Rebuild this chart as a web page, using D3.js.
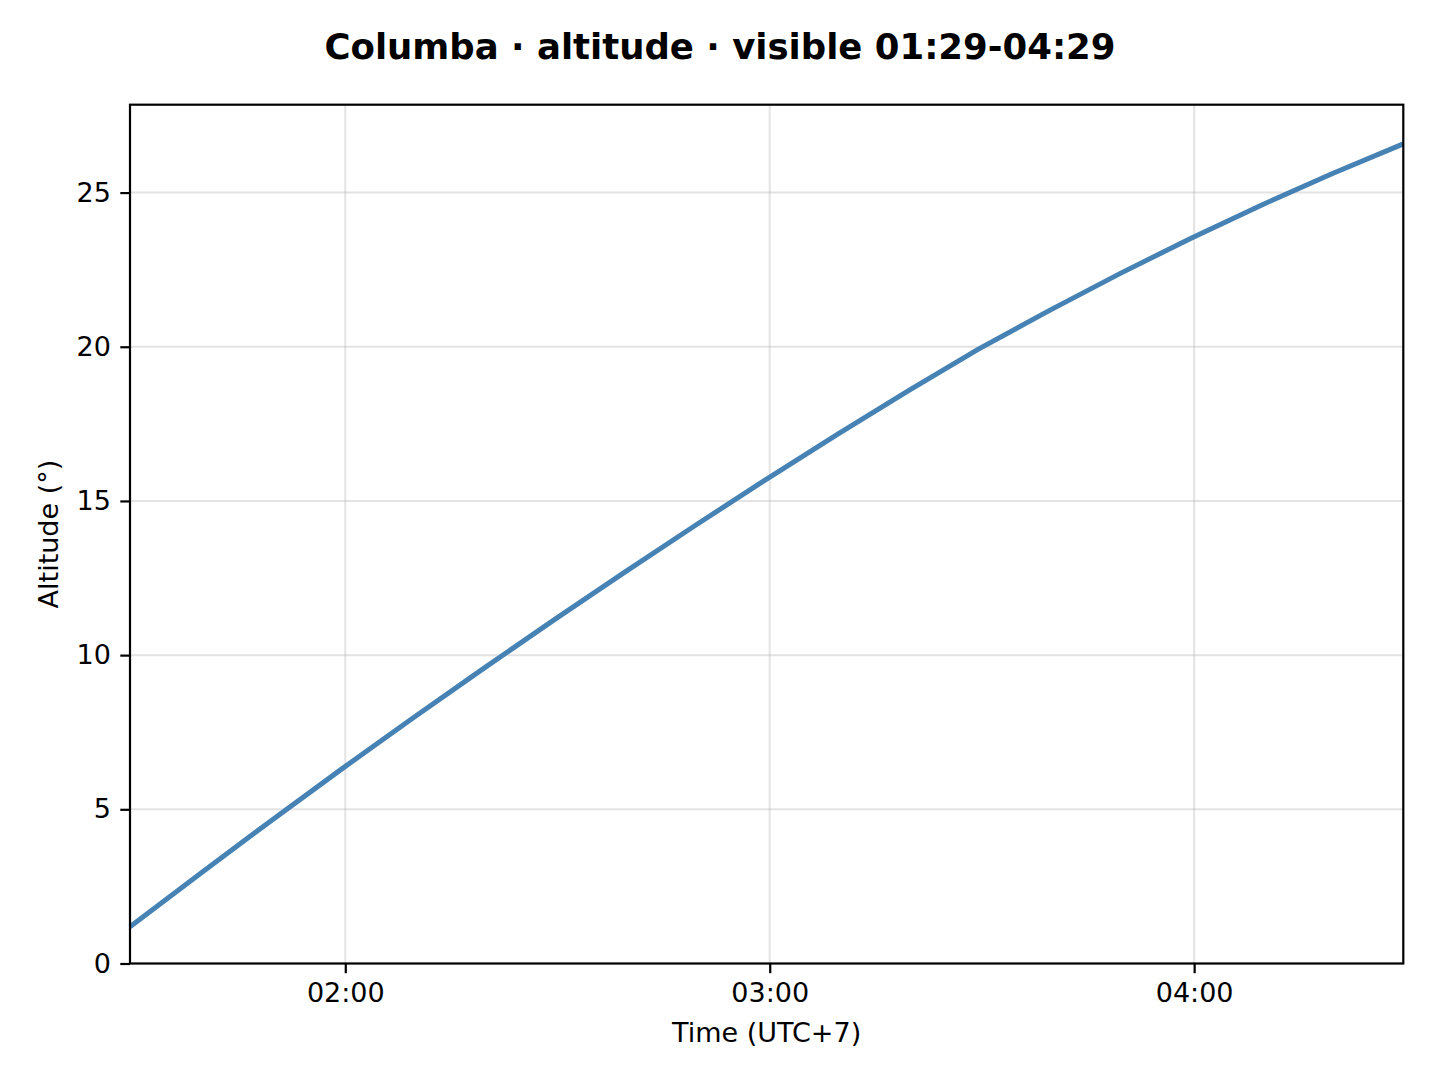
<!DOCTYPE html>
<html>
<head>
<meta charset="utf-8">
<script src="https://cdn.jsdelivr.net/npm/d3@7"></script>
<style>
  html, body { margin: 0; padding: 0; background: #fff; }
  svg { display: block; font-family: "DejaVu Sans", sans-serif; }
  .grid line { stroke: #b0b0b0; stroke-opacity: 0.35; stroke-width: 2; }
  .axis path, .axis line { stroke: #000; stroke-width: 2.2; }
  .axis text { fill: #000; font-size: 27px; font-family: "DejaVu Sans", sans-serif; }
</style>
</head>
<body>
<svg width="1440" height="1080"></svg>
<script>
const titleText = "Columba \u00b7 altitude \u00b7 visible 01:29-04:29";
const xLabel = "Time (UTC+7)";
const yLabel = "Altitude (\u00b0)";

// sampled every 10 minutes, local time
const times = ["01:29:34", "01:39:34", "01:49:34", "01:59:34", "02:09:34", "02:19:34",
  "02:29:34", "02:39:34", "02:49:34", "02:59:34", "03:09:34", "03:19:34", "03:29:34",
  "03:39:34", "03:49:34", "03:59:34", "04:09:34", "04:19:34", "04:29:34"];
const altitudes = [1.19, 2.93, 4.64, 6.32, 7.96, 9.57, 11.15, 12.70, 14.22, 15.71,
  17.16, 18.57, 19.93, 21.18, 22.38, 23.52, 24.60, 25.62, 26.58];
const yTicks = [0, 5, 10, 15, 20, 25];

const parseTime = d3.timeParse("%H:%M:%S");
const data = times.map(function(t, i) { return { t: parseTime(t), alt: altitudes[i] }; });

const margin = { top: 104.7, right: 36.7, bottom: 116.5, left: 130 };
const width = 1440, height = 1080;
const svg = d3.select("svg");

const x = d3.scaleTime()
  .domain(d3.extent(data, function(d) { return d.t; }))
  .range([margin.left, width - margin.right]);

// bottom pinned at 0, top gets matplotlib's 5% headroom
const yMin = d3.min(altitudes), yMax = d3.max(altitudes);
const y = d3.scaleLinear()
  .domain([0, yMax + 0.05 * (yMax - yMin)])
  .range([height - margin.bottom, margin.top]);

const xTicks = x.ticks(d3.timeHour.every(1));

// grid
const grid = svg.append("g").attr("class", "grid");
grid.selectAll(".gx")
  .data(xTicks)
  .enter().append("line")
    .attr("x1", function(d) { return x(d); })
    .attr("x2", function(d) { return x(d); })
    .attr("y1", y.range()[0])
    .attr("y2", y.range()[1]);
grid.selectAll(".gy")
  .data(yTicks)
  .enter().append("line")
    .attr("x1", x.range()[0])
    .attr("x2", x.range()[1])
    .attr("y1", function(d) { return y(d); })
    .attr("y2", function(d) { return y(d); });

// altitude curve
svg.append("path")
  .datum(data)
  .attr("fill", "none")
  .attr("stroke", "steelblue")
  .attr("stroke-width", 5)
  .attr("stroke-linejoin", "round")
  .attr("d", d3.line()
    .x(function(d) { return x(d.t); })
    .y(function(d) { return y(d.alt); })
  );

// axes
svg.append("g")
  .attr("class", "axis")
  .attr("transform", "translate(0," + (height - margin.bottom) + ")")
  .call(d3.axisBottom(x)
    .tickValues(xTicks)
    .tickFormat(d3.timeFormat("%H:%M"))
    .tickSize(9.7)
    .tickPadding(9.5)
    .tickSizeOuter(0))
  .call(function(g) { g.select(".domain").remove(); });

svg.append("g")
  .attr("class", "axis")
  .attr("transform", "translate(" + margin.left + ",0)")
  .call(d3.axisLeft(y)
    .tickValues(yTicks)
    .tickFormat(d3.format("d"))
    .tickSize(9.7)
    .tickPadding(9.5)
    .tickSizeOuter(0))
  .call(function(g) { g.select(".domain").remove(); });

// frame
svg.append("rect")
  .attr("x", x.range()[0])
  .attr("y", y.range()[1])
  .attr("width", x.range()[1] - x.range()[0])
  .attr("height", y.range()[0] - y.range()[1])
  .attr("fill", "none")
  .attr("stroke", "#000")
  .attr("stroke-width", 2.2);

// labels
svg.append("text")
  .attr("x", width / 2)
  .attr("y", 58.5)
  .attr("text-anchor", "middle")
  .attr("font-size", 35.5)
  .attr("font-weight", "bold")
  .text(titleText);

svg.append("text")
  .attr("x", (x.range()[0] + x.range()[1]) / 2)
  .attr("y", 1042)
  .attr("text-anchor", "middle")
  .attr("font-size", 27)
  .text(xLabel);

svg.append("text")
  .attr("transform", "translate(57.5," + (y.range()[0] + y.range()[1]) / 2 + ") rotate(-90)")
  .attr("text-anchor", "middle")
  .attr("font-size", 27)
  .text(yLabel);
</script>
</body>
</html>
